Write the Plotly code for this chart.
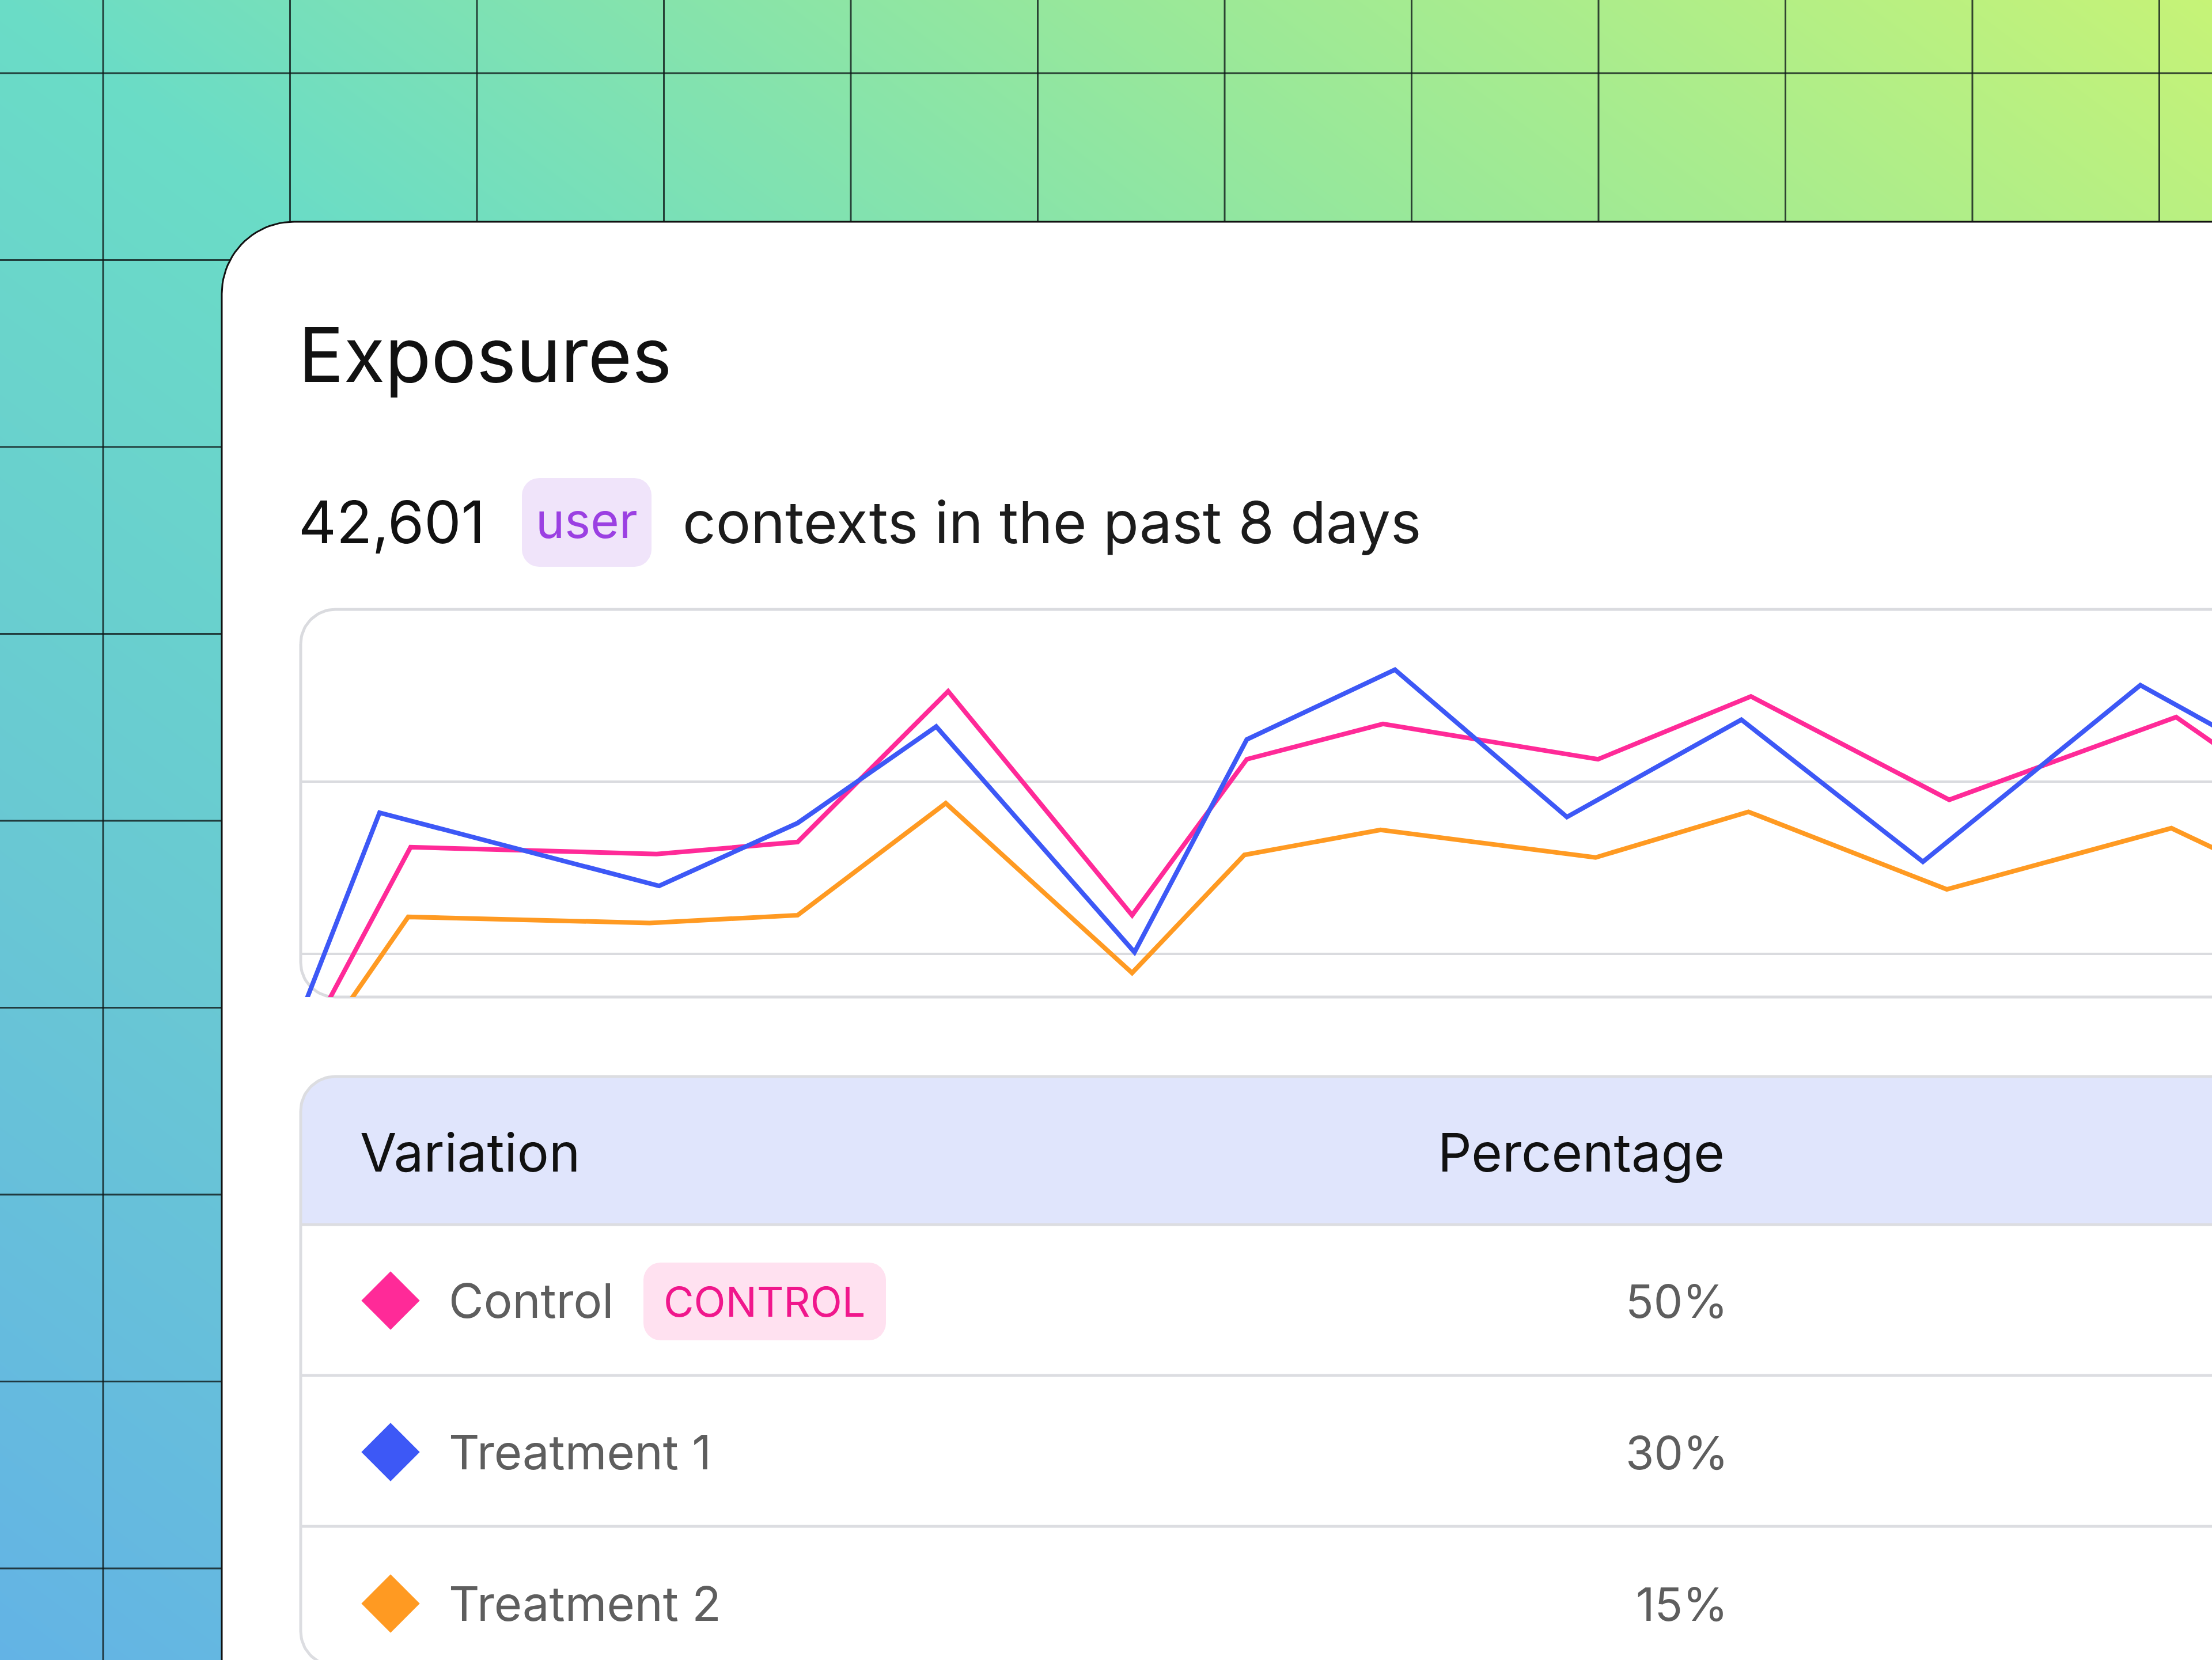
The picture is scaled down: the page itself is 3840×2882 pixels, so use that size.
import numpy as np
import plotly.graph_objects as go

# exposures per day, x = days since start of window
control_days = [0.09, 0.46, 1.49, 2.08, 2.71, 3.48, 3.96, 4.53, 5.43, 6.07, 6.90, 7.85, 8.15]
control_exposures = [1320, 3240, 3160, 3300, 5050, 2450, 4260, 4670, 4260, 4990, 3790, 4750, 4170]
t1_days = [0.02, 0.33, 1.50, 2.08, 2.66, 3.49, 3.96, 4.58, 5.30, 6.03, 6.79, 7.70, 8.15]
t1_exposures = [1440, 3640, 2790, 3520, 4640, 2020, 4490, 5300, 3590, 4720, 3070, 5120, 4430]
t2_days = [0.18, 0.45, 1.46, 2.08, 2.70, 3.48, 3.95, 4.52, 5.42, 6.06, 6.89, 7.83, 8.15]
t2_exposures = [1350, 2430, 2360, 2450, 3750, 1780, 3150, 3440, 3120, 3650, 2750, 3460, 3040]

variations = ["Control", "Treatment 1", "Treatment 2"]
percentages = ["50%", "30%", "15%"]
colors = ["#FF2A98", "#3D58F6", "#FF9A22"]

total_contexts = "42,601"
context_type = "user"

W, H = 3840, 2882
FONT = "Inter"


def rounded_path(x0, y0, x1, y1, r_tl=0, r_tr=0, r_br=0, r_bl=0, n=24):
    """Closed outline of a rect with rounded corners (pixel canvas, y down)"""
    xs, ys = [], []

    def corner(cx, cy, r, a0, a1, px, py):
        if r <= 0:
            xs.append(px)
            ys.append(py)
            return
        t = np.linspace(a0, a1, n)
        xs.extend(cx + r * np.cos(t))
        ys.extend(cy + r * np.sin(t))

    corner(x0 + r_tl, y0 + r_tl, r_tl, np.pi, 1.5 * np.pi, x0, y0)
    corner(x1 - r_tr, y0 + r_tr, r_tr, 1.5 * np.pi, 2 * np.pi, x1, y0)
    corner(x1 - r_br, y1 - r_br, r_br, 0, 0.5 * np.pi, x1, y1)
    corner(x0 + r_bl, y1 - r_bl, r_bl, 0.5 * np.pi, np.pi, x0, y1)
    xs.append(xs[0])
    ys.append(ys[0])
    return list(xs), list(ys)


def shape_trace(path, fill=None, line=None, width=0):
    xs, ys = path
    return go.Scatter(
        x=xs, y=ys, mode="lines",
        fill="toself" if fill else None,
        fillcolor=fill,
        line=dict(color=line or "rgba(0,0,0,0)", width=width),
        hoverinfo="skip", xaxis="x", yaxis="y",
    )


fig = go.Figure()

# gradient backdrop
fig.add_trace(go.Heatmap(
    x=[0, W], y=[0, H], z=[[0, 1], [-1, 0]],
    zmin=-1, zmax=1, zsmooth="best", showscale=False, hoverinfo="skip",
    colorscale=[[0, "#63B3E5"], [0.25, "#69C8D3"], [0.5, "#6ADCC6"],
                [0.75, "#98E89A"], [1, "#C6F377"]],
))

# backdrop grid
step = 324.5
gx, gy = [], []
for vx in 179 + step * np.arange(12):
    gx += [vx, vx, None]
    gy += [0, H, None]
for hy in 127 + step * np.arange(9):
    gx += [0, W, None]
    gy += [hy, hy, None]
fig.add_trace(go.Scatter(x=gx, y=gy, mode="lines", hoverinfo="skip",
                         line=dict(color="rgba(15,25,25,0.8)", width=3)))

# card
fig.add_trace(shape_trace(rounded_path(385, 385, W + 60, H + 60, r_tl=125),
                          fill="white", line="#111111", width=3))

# chart frame
fig.add_trace(shape_trace(rounded_path(522, 1058, W + 60, 1731, r_tl=60, r_bl=60),
                          fill="white", line="#DADBDF", width=5))

# table
table_path = rounded_path(522, 1869, W + 60, 2892, r_tl=60, r_bl=60)
fig.add_trace(shape_trace(table_path, fill="white"))
fig.add_trace(shape_trace(rounded_path(522, 1869, W + 60, 2126, r_tl=60), fill="#E0E5FC"))
fig.add_trace(shape_trace(table_path, line="#DCDDE1", width=5))
dx, dy = [], []
for yy in [2126, 2388, 2650]:
    dx += [522, W + 60, None]
    dy += [yy, yy, None]
fig.add_trace(go.Scatter(x=dx, y=dy, mode="lines", hoverinfo="skip",
                         line=dict(color="#DCDDE1", width=5)))

# pills
fig.add_trace(shape_trace(rounded_path(906, 830, 1131, 984, 30, 30, 30, 30), fill="#F0E4FA"))
fig.add_trace(shape_trace(rounded_path(1117, 2192, 1538, 2327, 30, 30, 30, 30), fill="#FFE1F0"))

# legend diamonds in table
row_y = [2258, 2521, 2784]
fig.add_trace(go.Scatter(
    x=[678] * 3, y=row_y, mode="markers", hoverinfo="skip",
    marker=dict(symbol="diamond", size=78, color=colors, line=dict(width=0)),
))

# exposure lines
for name, xd, yd, c in zip(variations,
                           [control_days, t1_days, t2_days],
                           [control_exposures, t1_exposures, t2_exposures],
                           colors):
    fig.add_trace(go.Scatter(x=xd, y=yd, name=name, mode="lines",
                             line=dict(color=c, width=8),
                             xaxis="x2", yaxis="y2"))


def add_text(x, y, text, size, color, anchor="left"):
    fig.add_annotation(x=x, y=y, xref="x", yref="y", text=text, showarrow=False,
                       xanchor=anchor, yanchor="middle",
                       font=dict(family=FONT, size=size, color=color))


add_text(516, 615, "Exposures", 131, "#111111")
add_text(516, 906, total_contexts, 102, "#111111")
add_text(1018, 903, context_type, 85, "#9B40E2", "center")
add_text(1183, 906, "contexts in the past 8 days", 101, "#1C1C1C")
add_text(623, 2000, "Variation", 92, "#111111")
add_text(2996, 2000, "Percentage", 92, "#111111", "right")
for i, (name, pct) in enumerate(zip(variations, percentages)):
    add_text(777, row_y[i], name, 83, "#5E5E5E")
    add_text(3002, row_y[i], pct, 80, "#5E5E5E", "right")
add_text(1327, 2259, "CONTROL", 72, "#F0178C", "center")

hidden = dict(visible=False, showgrid=False, zeroline=False)
fig.update_layout(
    width=W, height=H, autosize=False,
    margin=dict(l=0, r=0, t=0, b=0),
    paper_bgcolor="white", plot_bgcolor="rgba(0,0,0,0)",
    showlegend=False,
    xaxis=dict(range=[0, W], domain=[0, 1], **hidden),
    yaxis=dict(range=[H, 0], domain=[0, 1], **hidden),
    xaxis2=dict(domain=[522 / W, 1], range=[0, 8], anchor="y2",
                showgrid=False, zeroline=False, showticklabels=False, ticks=""),
    yaxis2=dict(domain=[1 - 1731 / H, 1 - 1058 / H], range=[1500, 6000], anchor="x2",
                tickvals=[2000, 4000], showgrid=True, gridcolor="#DADBDF", gridwidth=4,
                zeroline=False, showticklabels=False, ticks=""),
)

fig.write_html("out.html", config={"displayModeBar": False},
               post_script="document.body.style.margin='0';")
